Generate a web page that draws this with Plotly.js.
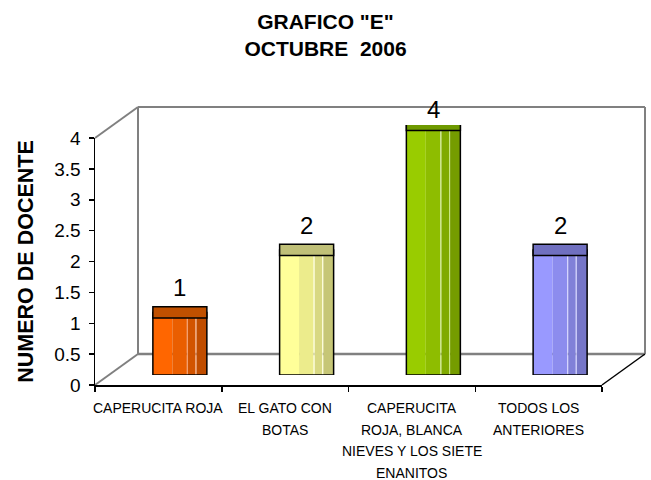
<!DOCTYPE html>
<html>
<head>
<meta charset="utf-8">
<script src="https://cdn.plot.ly/plotly-3.0.1.min.js"></script>
<style>html,body{margin:0;padding:0;background:#fff;}#chart{width:651px;height:480px;}</style>
</head>
<body>
<div id="chart"></div>
<script>
// ---- data ----
const categories = [
  'CAPERUCITA ROJA',
  'EL GATO CON<br>BOTAS',
  'CAPERUCITA<br>ROJA, BLANCA<br>NIEVES Y LOS SIETE<br>ENANITOS',
  'TODOS LOS<br>ANTERIORES'
];
const values = [1, 2, 4, 2];
const yTickVals = [0, 0.5, 1, 1.5, 2, 2.5, 3, 3.5, 4];
const yTickText = ['0', '0.5', '1', '1.5', '2', '2.5', '3', '3.5', '4'];
const titleText = 'GRAFICO "E"<br>OCTUBRE\u00a0 2006';
const yTitleText = 'NUMERO DE DOCENTE';

// ---- style ----
const FONT = 'Liberation Sans, Arial, Helvetica, sans-serif';
const palettes = [
  {c1:'#ff6600', c2:'#ea5e00', c3:'#d25400', c4:'#c04d00', hi:'#f4a070', cap:'#c05000'},
  {c1:'#ffff99', c2:'#ecec8c', c3:'#d8d882', c4:'#c6c676', hi:'#ffffd8', cap:'#c0c078'},
  {c1:'#99cc00', c2:'#8ebd00', c3:'#80aa00', c4:'#759c00', hi:'#c8e680', cap:'#6e9900'},
  {c1:'#9999ff', c2:'#8c8cee', c3:'#8080d8', c4:'#7676c8', hi:'#d0d0ff', cap:'#7070c0'}
];
const stripes = [
  {a:0.00, b:0.36, k:'c1'},
  {a:0.36, b:0.63, k:'c2'},
  {a:0.63, b:0.65, k:'hi'},
  {a:0.65, b:0.79, k:'c3'},
  {a:0.79, b:0.81, k:'hi'},
  {a:0.81, b:1.00, k:'c4'}
];
const BAR_W = 0.426;
const CAP_H = 0.18;
const yMax = 4;

// geometry (paper units)
const XD1 = 0.9235, YD1 = 0.8853;
const DX = 0.0783, DY = 0.1111;

const traces = [];
// invisible trace to build front category axis
traces.push({type:'scatter', x:categories, y:values, xaxis:'x', yaxis:'y',
  mode:'markers', marker:{opacity:0}, hoverinfo:'skip', showlegend:false});

stripes.forEach(s => {
  traces.push({
    type:'bar', x:categories, y:values, xaxis:'x2', yaxis:'y2',
    offset:-BAR_W/2 + s.a*BAR_W, width:(s.b - s.a)*BAR_W,
    marker:{color:palettes.map(p => p[s.k]), line:{width:0}},
    hoverinfo:'skip', showlegend:false
  });
});
// outline
traces.push({
  type:'bar', x:categories, y:values, xaxis:'x2', yaxis:'y2',
  offset:-BAR_W/2, width:BAR_W,
  marker:{color:'rgba(0,0,0,0)', line:{width:1.5, color:'#000'}},
  hoverinfo:'skip', showlegend:false
});
// top cap
traces.push({
  type:'bar', x:categories, y:values.map(() => CAP_H), base:values.map(v => v - CAP_H/2),
  xaxis:'x2', yaxis:'y2', offset:-BAR_W/2, width:BAR_W,
  marker:{color:palettes.map(p => p.cap), line:{width:1.5, color:'#000'}},
  hoverinfo:'skip', showlegend:false
});

const annotations = [];
// value labels
values.forEach((v, i) => {
  annotations.push({
    xref:'x2', yref:'y2', x:categories[i], y:v, text:String(v), showarrow:false,
    yanchor:'bottom', yshift: v >= yMax ? 0 : 9,
    font:{family:FONT, size:24, color:'#000'}
  });
});
// category labels, one annotation per line
categories.forEach((c, i) => {
  c.split('<br>').forEach((line, j) => {
    annotations.push({
      xref:'x', yref:'paper', x:c, y:0, text:line, showarrow:false,
      yanchor:'middle', yshift:-(23 + 21.5*j),
      font:{family:FONT, size:14, color:'#000'}
    });
  });
});

const G = '#808080';
const ln = (x0,y0,x1,y1,color,w) => ({type:'line', xref:'paper', yref:'paper', x0, y0, x1, y1,
  line:{color, width:w}, layer:'below'});
const shapes = [
  ln(DX, DY, DX, YD1 + DY, G, 2),                 // back wall left
  ln(XD1 + DX, DY, XD1 + DX, YD1 + DY, G, 2),     // back wall right
  ln(DX, YD1 + DY, XD1 + DX, YD1 + DY, G, 2),     // back wall top
  ln(DX, DY, XD1 + DX, DY, G, 2.5),               // floor back edge
  ln(0, YD1, DX, YD1 + DY, G, 2),                 // left wall top diagonal
  ln(0, 0, DX, DY, G, 2),                         // floor left diagonal
  ln(XD1, 0, XD1 + DX, DY, '#000', 1.5)           // floor right diagonal
];

const layout = {
  width:651, height:480,
  margin:{l:95, r:7, t:106, b:95},
  paper_bgcolor:'#fff', plot_bgcolor:'rgba(0,0,0,0)',
  font:{family:FONT, color:'#000'},
  barmode:'overlay',
  showlegend:false,
  title:{text:titleText, x:0.5, xanchor:'center', y:0.94, yanchor:'top', yref:'container',
    font:{family:FONT, size:21, color:'#000', weight:'bold'}},
  xaxis:{type:'category', domain:[0, XD1], range:[-0.5, 3.5], anchor:'y',
    showline:true, linecolor:'#000', linewidth:1.5, showgrid:false, zeroline:false,
    tickson:'boundaries', ticks:'outside', ticklen:5, tickcolor:'#000', tickwidth:1.5,
    showticklabels:false, fixedrange:true},
  yaxis:{domain:[0, YD1], range:[0, 4], anchor:'x',
    tickvals:yTickVals, ticktext:yTickText,
    showline:true, linecolor:'#000', linewidth:1.5, showgrid:false, zeroline:false,
    ticks:'outside', ticklen:5, tickcolor:'#000', tickwidth:1.5, ticklabelstandoff:4,
    tickfont:{family:FONT, size:19, color:'#000'},
    title:{text:yTitleText, standoff:15, font:{family:FONT, size:21.5, color:'#000', weight:'bold'}},
    fixedrange:true},
  xaxis2:{type:'category', domain:[DX/2, XD1 + DX/2], range:[-0.5, 3.5], anchor:'y2', visible:false, fixedrange:true},
  yaxis2:{domain:[0.036, 0.932], range:[0, 4], anchor:'x2', visible:false, fixedrange:true},
  shapes, annotations
};

Plotly.newPlot('chart', traces, layout, {staticPlot:true, displayModeBar:false});
</script>
</body>
</html>
